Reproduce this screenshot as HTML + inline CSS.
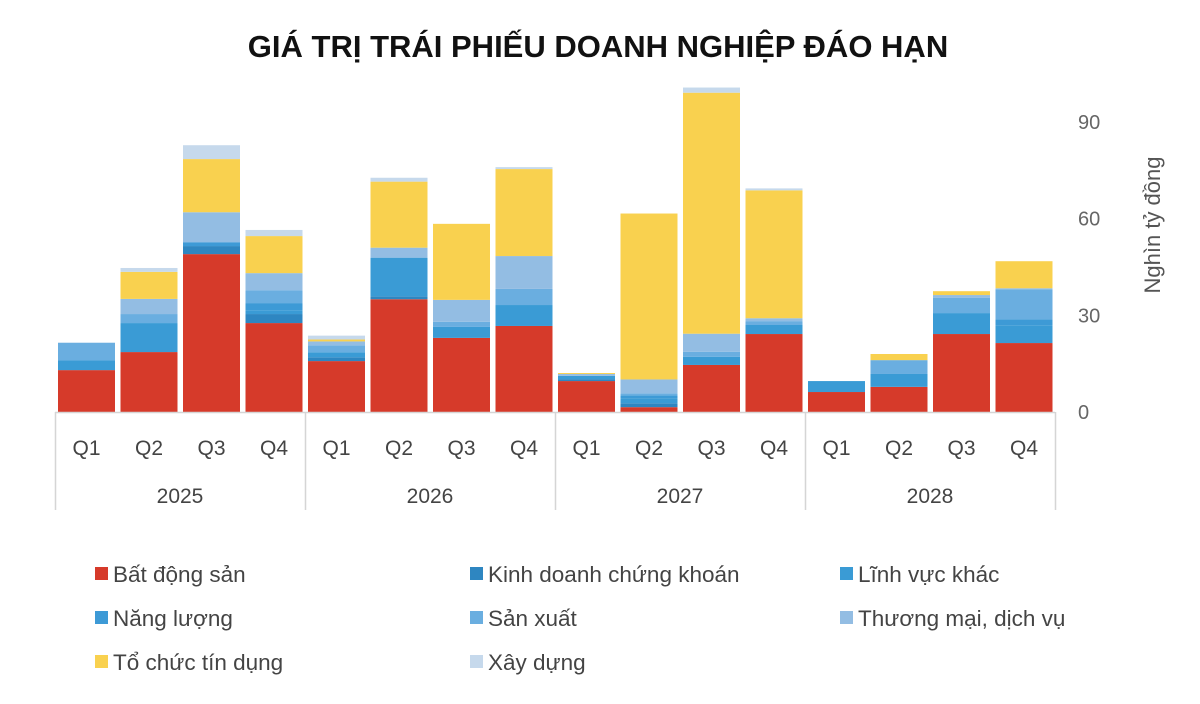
<!DOCTYPE html>
<html><head><meta charset="utf-8"><style>
body{margin:0;background:#fff;}
svg{display:block;font-family:"Liberation Sans","DejaVu Sans",sans-serif;}
</style></head><body>
<svg id="chart" width="1200" height="704" viewBox="0 0 1200 704" xmlns="http://www.w3.org/2000/svg">
<text x="598" y="57" text-anchor="middle" font-size="31" font-weight="bold" fill="#111">GIÁ TRỊ TRÁI PHIẾU DOANH NGHIỆP ĐÁO HẠN</text>
<g id="bars"></g>
<g id="axis"></g>
<text transform="translate(1160,225) rotate(-90)" text-anchor="middle" font-size="22" fill="#555">Nghìn tỷ đồng</text>
<g id="legend"></g>
</svg>
<script>
const years = ["2025","2026","2027","2028"];
const quarters = ["Q1","Q2","Q3","Q4"];
const seriesNames = ["Bất động sản","Kinh doanh chứng khoán","Lĩnh vực khác","Năng lượng","Sản xuất","Thương mại, dịch vụ","Tổ chức tín dụng","Xây dựng"];
const seriesColors = ["#d63a2a","#2e86c1","#3a9bd5","#3d9ad6","#6aaee0","#93bde3","#f9d14f","#c6d9ec"];
const bds  = [13,18.6,49,27.6, 15.8,35,23,26.7, 9.6,1.5,14.6,24.2, 6.2,7.8,24.2,21.4];
const kdck = [0,0,2.5,2.8, 1.2,0.9,0,0, 0.6,1.2,0,0, 0,0,0,0];
const lvk  = [3,9,0,1.2, 1.5,12,3.4,6.5, 1,1.6,2.5,2.8, 3.4,4,6.5,5.5];
const nl   = [0,0,1.2,2.2, 0,0,0,0, 0,0.9,0,0, 0,0,0,1.9];
const sx   = [5.5,2.8,0,4, 2.2,0,1.6,5, 0,0.6,1.6,1.2, 0,4.3,4.7,9.3];
const tm   = [0,4.7,9.3,5.3, 1.2,3.1,6.8,10.2, 0.6,4.3,5.6,0.9, 0,0,0.9,0.3];
const tctd = [0,8.4,16.5,11.5, 0.6,20.5,23.6,27, 0.3,51.5,74.8,39.7, 0,1.9,1.2,8.4];
const xd   = [0,1.2,4.3,1.9, 1.2,1.2,0,0.6, 0,0,1.6,0.6, 0,0,0,0];
const yTicks = [0,30,60,90];

const NS="http://www.w3.org/2000/svg";
const series=[bds,kdck,lvk,nl,sx,tm,tctd,xd];
const y0=412, pxPer=3.222;
const yScale=v=>y0-v*pxPer;
const xLeft=55, groupW=250;
const xBar=i=>xLeft+Math.floor(i/4)*groupW+(i%4)*62.5+3;
const bw=57;
function mk(tag,attrs,parent){const e=document.createElementNS(NS,tag);for(const k in attrs)e.setAttribute(k,attrs[k]);parent.appendChild(e);return e;}
const gb=document.getElementById('bars');
for(let i=0;i<bds.length;i++){
  let acc=0;
  for(let s=0;s<series.length;s++){
    const v=series[s][i]; if(!v) continue;
    const r=mk('rect',{x:xBar(i),y:yScale(acc+v),width:bw,height:v*pxPer,fill:seriesColors[s]},gb);
    
    
    acc+=v;
  }
}
const ga=document.getElementById('axis');
mk('line',{x1:xLeft,x2:xLeft+4*groupW,y1:412.5,y2:412.5,stroke:'#d5d5d5','stroke-width':1.5},ga);
for(let g=0;g<=years.length;g++){
  const x=xLeft+g*groupW+0.5;
  mk('line',{x1:x,x2:x,y1:412,y2:510,stroke:'#d5d5d5','stroke-width':1.5},ga);
}
for(let i=0;i<16;i++){
  const t=mk('text',{x:xBar(i)+bw/2,y:455,'text-anchor':'middle','font-size':21,fill:'#444'},ga);
  t.textContent=quarters[i%4];
  
  
}
years.forEach((yv,g)=>{
  const t=mk('text',{x:xLeft+g*groupW+groupW/2,y:503,'text-anchor':'middle','font-size':21,fill:'#444'},ga);
  t.textContent=yv;
  
  
});
yTicks.forEach(v=>{
  const t=mk('text',{x:1078,y:yScale(v)+7,'font-size':20,fill:'#666'},ga);
  t.textContent=v;
  
  
});
const gl=document.getElementById('legend');
const colX=[95,470,840], rowY=[574,618,662];
seriesNames.forEach((n,i)=>{
  const x=colX[i%3], y=rowY[Math.floor(i/3)];
  const g=mk('g',{},gl);
  
  
  mk('rect',{x:x,y:y-7,width:13,height:13,fill:seriesColors[i]},g);
  const t=mk('text',{x:x+18,y:y+8,'font-size':22.5,fill:'#444'},g);
  t.textContent=n;
});
</script>
</body></html>
